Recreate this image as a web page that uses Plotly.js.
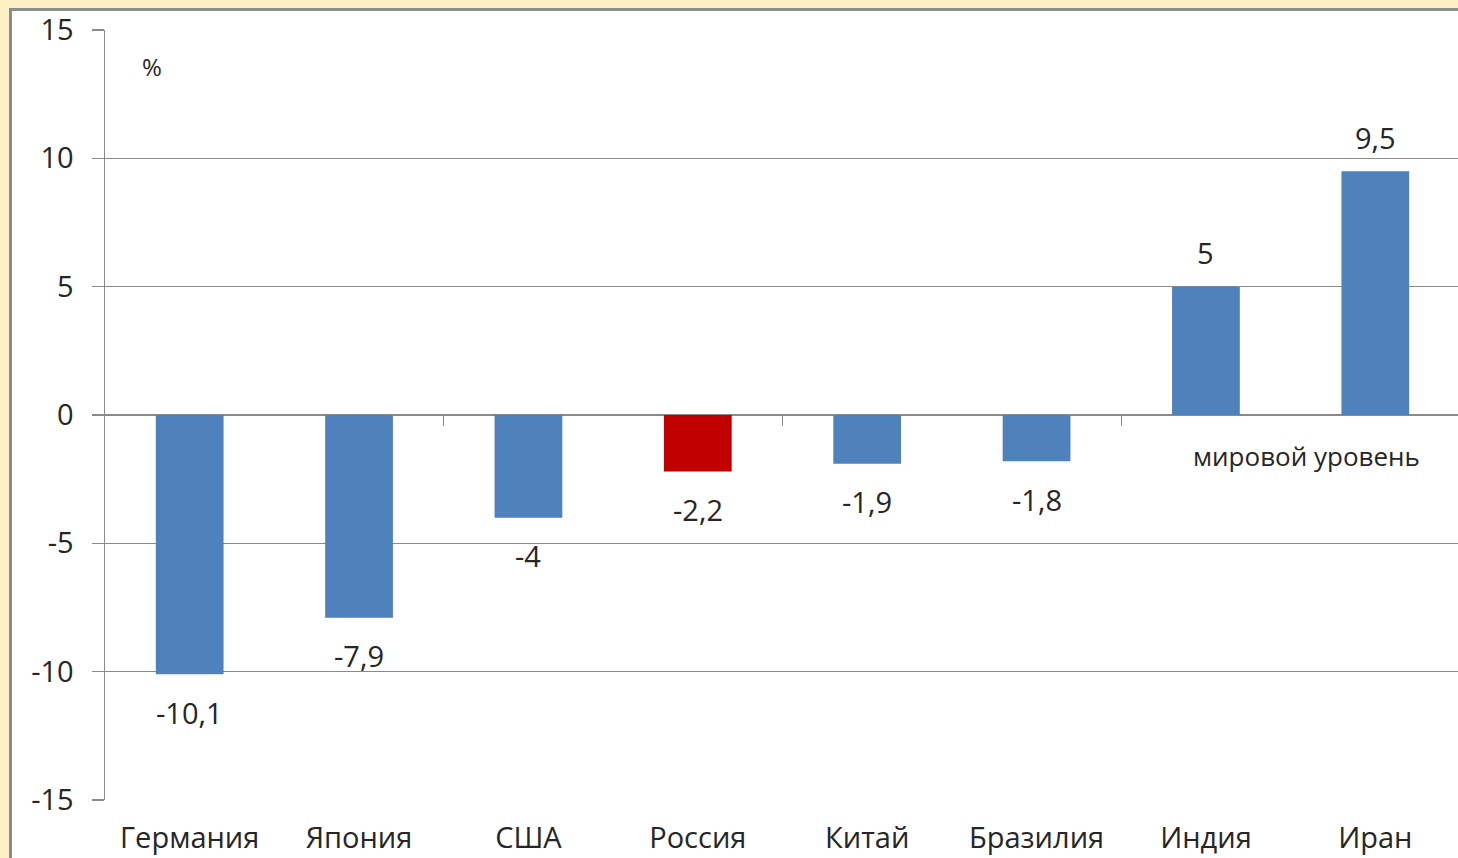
<!DOCTYPE html>
<html><head><meta charset="utf-8">
<script src="https://cdn.plot.ly/plotly-3.0.1.min.js"></script>
<style>
html,body{margin:0;padding:0;background:#fdf0c4;overflow:hidden;width:1458px;height:858px;}
#frame{position:absolute;left:9px;top:8px;width:1460px;height:860px;border-left:3px solid #8c8c8c;border-top:3px solid #8c8c8c;background:#fff;overflow:hidden;}
#chart{position:absolute;left:0;top:-20px;width:1450px;height:867px;}
</style></head>
<body><div id="frame"><div id="chart"></div></div>
<script>
const categories = ["Германия","Япония","США","Россия","Китай","Бразилия","Индия","Иран"];
const values = [-10.1, -7.9, -4, -2.2, -1.9, -1.8, 5, 9.5];
const barColors = ["#4f81bd","#4f81bd","#4f81bd","#c00000","#4f81bd","#4f81bd","#4f81bd","#4f81bd"];
const yTicks = [-15,-10,-5,0,5,10,15];
const unitLabel = "%";
const worldLabel = "мировой уровень";

const FONT = "'Open Sans', sans-serif";
const TXT = "#262626";
const fmt = v => String(v).replace(".", ",");

// tick marks on the zero line: every second category boundary
const zeroTicks = categories.map((c,i)=>i).filter(i=>i%2===1 && i<categories.length-1).map(i=>i+0.5);

const traces = [
  {type:"bar", x:categories, y:values, marker:{color:barColors}, width:0.4, hoverinfo:"skip"},
  {type:"scatter", mode:"none", x:[-0.5, categories.length-0.5], y:[0,0], xaxis:"x2", showlegend:false, hoverinfo:"skip"}
];

const annotations = values.map((v,i)=>({
  x:categories[i], y:v, xref:"x", yref:"y", text:fmt(v), showarrow:false,
  xanchor:"center", yanchor:"middle", yshift: v<0 ? -38 : 34,
  font:{family:FONT, size:29, color:TXT}
}));
annotations.push({xref:"paper", yref:"paper", x:0.0347, y:0.952, xanchor:"center", yanchor:"middle",
  text:unitLabel, showarrow:false, font:{family:FONT, size:24, color:TXT}});
annotations.push({xref:"paper", yref:"paper", x:0.887, y:0.447, xanchor:"center", yanchor:"middle",
  text:worldLabel, showarrow:false, font:{family:FONT, size:26, color:TXT}});

const layout = {
  width:1450, height:867,
  margin:{l:93, r:2, t:39, b:58},
  paper_bgcolor:"rgba(0,0,0,0)", plot_bgcolor:"#fff",
  showlegend:false, bargap:0.6,
  font:{family:FONT, color:TXT},
  xaxis:{type:"category", range:[-0.5, categories.length-0.5], showgrid:false, zeroline:false, showline:false, ticks:"",
    tickfont:{family:FONT, size:29, color:TXT}, ticklabelstandoff:18, fixedrange:true},
  xaxis2:{type:"linear", overlaying:"x", anchor:"free", position:0.5, side:"bottom",
    range:[-0.5, categories.length-0.5], tickmode:"array", tickvals:zeroTicks,
    ticks:"outside", ticklen:10, tickcolor:"#868686", tickwidth:1.2,
    showticklabels:false, showgrid:false, zeroline:false, showline:false, fixedrange:true},
  yaxis:{range:[-15,15], tickvals:yTicks, ticktext:yTicks.map(String), showgrid:true, gridcolor:"#8a8a8a", gridwidth:1.3,
    zeroline:true, zerolinecolor:"#8a8a8a", zerolinewidth:1.3,
    showline:true, linecolor:"#8a8a8a", linewidth:1.5, ticks:"outside", ticklen:12, tickcolor:"#8a8a8a", tickwidth:1.3,
    tickfont:{family:FONT, size:29, color:TXT}, ticklabelstandoff:12, ticklabeloverflow:"allow", fixedrange:true},
  annotations:annotations
};
Plotly.newPlot("chart", traces, layout, {displayModeBar:false, staticPlot:true});
</script></body></html>
